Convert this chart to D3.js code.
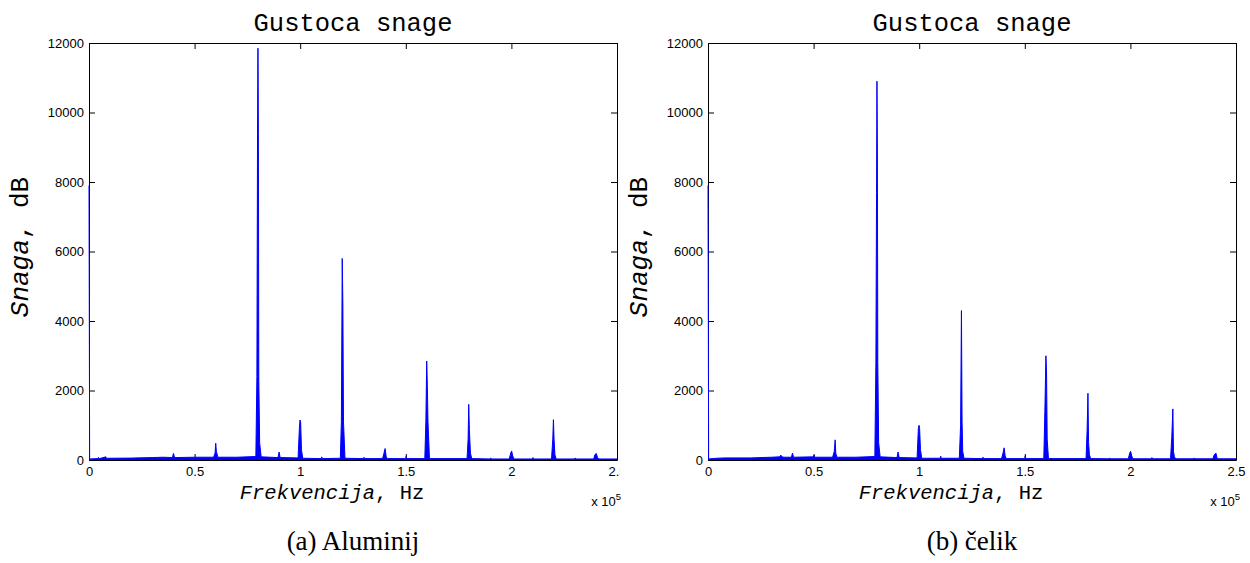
<!DOCTYPE html>
<html>
<head>
<meta charset="utf-8">
<script src="https://cdn.jsdelivr.net/npm/d3@7"></script>
<style>
  html, body { margin: 0; padding: 0; background: #fff; }
  svg { display: block; }
</style>
</head>
<body>
<svg id="chart" width="1250" height="563"></svg>
<script>
// ---- Data (frequency in units of 1e5 Hz, power values) ----
const xTicks = [0, 0.5, 1, 1.5, 2, 2.5];
const yTicks = [0, 2000, 4000, 6000, 8000, 10000, 12000];
const chartTitle = "Gustoca snage";
const captions = ["(a) Aluminij", "(b) čelik"];

const alFreq = [0, 0.003, 0.04, 0.045, 0.05, 0.08, 0.083, 0.09, 0.2, 0.3, 0.35, 0.395, 0.40, 0.405, 0.5, 0.59, 0.597, 0.600, 0.603, 0.61, 0.7, 0.79, 0.795, 0.798, 0.800, 0.802, 0.804, 0.808, 0.815, 0.895, 0.900, 0.905, 0.99, 0.996, 0.999, 1.002, 1.006, 1.012, 1.1, 1.102, 1.104, 1.19, 1.195, 1.199, 1.202, 1.205, 1.212, 1.3, 1.302, 1.304, 1.39, 1.397, 1.402, 1.407, 1.412, 1.5, 1.502, 1.504, 1.59, 1.595, 1.599, 1.602, 1.605, 1.612, 1.7, 1.79, 1.795, 1.798, 1.801, 1.806, 1.812, 1.9, 1.902, 1.904, 1.99, 1.997, 2.001, 2.006, 2.012, 2.1, 2.102, 2.104, 2.19, 2.196, 2.199, 2.202, 2.206, 2.212, 2.3, 2.302, 2.304, 2.39, 2.395, 2.402, 2.408, 2.415, 2.5];
const alPower = [7900, 30, 40, 70, 40, 90, 40, 50, 55, 70, 80, 70, 190, 70, 80, 80, 200, 480, 250, 80, 80, 100, 2400, 9500, 11850, 9400, 2300, 500, 90, 70, 230, 70, 60, 900, 1150, 1100, 300, 50, 40, 90, 40, 50, 1100, 5800, 4500, 1100, 50, 40, 80, 40, 40, 200, 330, 100, 40, 40, 110, 40, 40, 1100, 2850, 2150, 1100, 40, 40, 40, 600, 1600, 880, 200, 40, 30, 60, 30, 30, 200, 260, 120, 30, 30, 70, 30, 30, 600, 1160, 600, 150, 30, 30, 60, 30, 30, 150, 190, 60, 30, 30];

const stFreq = [0, 0.003, 0.04, 0.08, 0.2, 0.3, 0.34, 0.345, 0.35, 0.36, 0.395, 0.40, 0.405, 0.5, 0.502, 0.504, 0.59, 0.598, 0.602, 0.605, 0.61, 0.7, 0.79, 0.795, 0.798, 0.800, 0.802, 0.804, 0.808, 0.815, 0.895, 0.900, 0.905, 0.99, 0.996, 0.999, 1.002, 1.006, 1.012, 1.1, 1.102, 1.104, 1.19, 1.196, 1.200, 1.203, 1.206, 1.212, 1.3, 1.302, 1.304, 1.39, 1.397, 1.402, 1.407, 1.412, 1.5, 1.502, 1.504, 1.59, 1.595, 1.600, 1.603, 1.606, 1.612, 1.7, 1.79, 1.795, 1.799, 1.802, 1.806, 1.812, 1.9, 1.902, 1.904, 1.99, 1.997, 2.001, 2.006, 2.012, 2.1, 2.102, 2.104, 2.19, 2.196, 2.201, 2.204, 2.208, 2.214, 2.3, 2.302, 2.304, 2.39, 2.397, 2.405, 2.41, 2.416, 2.5];
const stPower = [7900, 30, 50, 60, 60, 80, 90, 140, 90, 80, 80, 200, 80, 90, 140, 80, 80, 250, 580, 200, 80, 80, 100, 2800, 7700, 10900, 8800, 2800, 500, 90, 70, 230, 70, 60, 900, 1000, 900, 300, 50, 50, 110, 50, 50, 1000, 4300, 1100, 250, 50, 40, 80, 40, 40, 200, 350, 120, 40, 40, 120, 40, 40, 1400, 3000, 2500, 600, 40, 40, 40, 850, 1920, 500, 150, 40, 35, 60, 35, 35, 200, 250, 120, 35, 35, 70, 35, 35, 650, 1470, 250, 100, 35, 35, 60, 35, 35, 150, 200, 60, 35, 35];

const panels = [
  { freq: alFreq, power: alPower, left: 89, caption: captions[0], clipRight: 620 },
  { freq: stFreq, power: stPower, left: 708, caption: captions[1], clipRight: 1250 }
];

const svg = d3.select("#chart");
const plotW = 528, plotTop = 43, plotBottom = 460;
const tickFont = "'Liberation Sans', Arial, sans-serif";
const monoFont = "'Liberation Mono', 'Courier New', monospace";
const serifFont = "'Liberation Serif', 'DejaVu Serif', serif";

panels.forEach((p, i) => {
  const x = d3.scaleLinear().domain([0, 2.5]).range([p.left, p.left + plotW]);
  const y = d3.scaleLinear().domain([0, 12000]).range([plotBottom, plotTop]);

  const clipId = "clipText" + i;
  svg.append("clipPath").attr("id", clipId)
    .append("rect").attr("x", 0).attr("y", 0).attr("width", p.clipRight).attr("height", 563);

  const g = svg.append("g").attr("clip-path", `url(#${clipId})`);
  const fmt = d => d3.format("")(d);

  const ax = g.append("g").attr("transform", `translate(0,${plotBottom})`)
    .call(d3.axisBottom(x).tickValues(xTicks).tickSizeInner(-6).tickSizeOuter(0).tickPadding(7).tickFormat(fmt));
  const axT = g.append("g").attr("transform", `translate(0,${plotTop})`)
    .call(d3.axisTop(x).tickValues(xTicks).tickSizeInner(-6).tickSizeOuter(0).tickFormat(""));
  const ay = g.append("g").attr("transform", `translate(${p.left},0)`)
    .call(d3.axisLeft(y).tickValues(yTicks).tickSizeInner(-6).tickSizeOuter(0).tickPadding(5).tickFormat(fmt));
  const ayR = g.append("g").attr("transform", `translate(${p.left + plotW},0)`)
    .call(d3.axisRight(y).tickValues(yTicks).tickSizeInner(-6).tickSizeOuter(0).tickFormat(""));

  [ax, axT, ay, ayR].forEach(a => {
    a.selectAll("path.domain").attr("stroke", "#000").attr("stroke-width", 1);
    a.selectAll(".tick line").attr("stroke", "#000").attr("stroke-width", 1);
    a.selectAll("text").attr("font-family", tickFont).attr("font-size", 13).attr("fill", "#000");
  });

  const pts = p.freq.map((f, k) => [f, p.power[k]]);
  const area = d3.area().x(d => x(d[0])).y0(y(0)).y1(d => y(d[1]));
  const line = d3.line().x(d => x(d[0])).y(d => y(d[1]));
  svg.append("path").datum(pts).attr("d", area).attr("fill", "#0000ff").attr("stroke", "none");
  svg.append("path").datum(pts).attr("d", line).attr("fill", "none").attr("stroke", "#0000ff").attr("stroke-width", 1);

  const cx = p.left + plotW / 2;
  svg.append("text").attr("x", cx).attr("y", 31).attr("text-anchor", "middle")
    .attr("font-family", monoFont).attr("font-size", 25.5).attr("fill", "#000").text(chartTitle);

  const xl = svg.append("text").attr("x", cx - 21).attr("y", 499).attr("text-anchor", "middle")
    .attr("font-family", monoFont).attr("font-size", 20.5).attr("fill", "#000");
  xl.append("tspan").attr("font-style", "italic").text("Frekvencija");
  xl.append("tspan").text(", Hz");

  const yl = svg.append("text").attr("transform", `translate(${p.left - 61},${247}) rotate(-90)`)
    .attr("text-anchor", "middle")
    .attr("font-family", monoFont).attr("font-size", 26).attr("fill", "#000");
  yl.append("tspan").attr("font-style", "italic").text("Snaga");
  yl.append("tspan").text(", dB");

  const ex = svg.append("text").attr("x", p.left + plotW + 4).attr("y", 506).attr("text-anchor", "end")
    .attr("font-family", tickFont).attr("font-size", 13).attr("fill", "#000");
  ex.append("tspan").text("x 10");
  ex.append("tspan").attr("dy", -6).attr("font-size", 9.5).text("5");

  svg.append("text").attr("x", cx).attr("y", 550).attr("text-anchor", "middle")
    .attr("font-family", serifFont).attr("font-size", 27).attr("fill", "#000").text(p.caption);
});
</script>
</body>
</html>
